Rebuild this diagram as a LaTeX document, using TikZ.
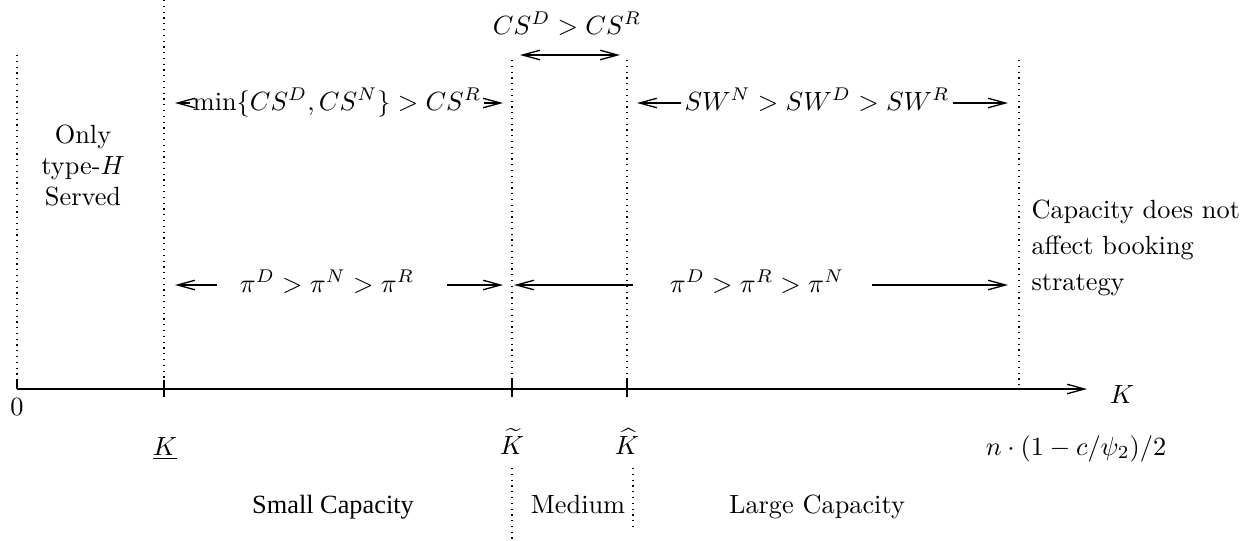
\documentclass[tikz,border=0pt]{standalone}
\usepackage{fontspec}
\newfontfamily\tnr{Liberation Serif}
\usetikzlibrary{arrows.meta}
\tikzset{
  dotl/.style={line width=0.45pt, dash pattern=on 0.45pt off 1.75pt},
  axisline/.style={line width=0.5pt},
  arr/.style={line width=0.5pt, -{Straight Barb[length=6.6pt,width=3.6pt]}},
  darr/.style={line width=0.5pt, {Straight Barb[length=6.6pt,width=3.6pt]}-{Straight Barb[length=6.6pt,width=3.6pt]}},
  lbl/.style={anchor=base, inner sep=0pt},
  lblw/.style={anchor=base west, inner sep=0pt},
}
\begin{document}
\begin{tikzpicture}[x=0.38pt,y=-0.38pt]
\useasboundingbox (0,0) rectangle (1258,540);
% axis
\coordinate (o) at (17,389);
\coordinate (axend) at (1087,389);
\draw[arr] (o) -- (axend);
% ticks
\draw[axisline] (164,380) -- (164,397);
\draw[axisline] (512,380) -- (512,397);
\draw[axisline] (627,380) -- (627,397);
\draw[axisline] (17,380) -- (17,389);
% dotted verticals
\draw[dotl] (17,55) -- (17,380);
\draw[dotl] (164,0) -- (164,380);
\draw[dotl] (512,60) -- (512,380);
\draw[dotl] (627,60) -- (627,380);
\draw[dotl] (1019,60) -- (1019,389);
\draw[dotl] (512,468) -- (512,540);
\draw[dotl] (633,468) -- (633,528);
% axis labels
\node[lbl] (zero) at (17,415) {$0$};
\node[lbl] (Kax) at (1122,403) {$K$};
\node[lbl] (Klow) at (165,455) {$\underline{K}$};
\node[lbl] (Ktil) at (512,454) {$\widetilde{K}$};
\node[lbl] (Khat) at (627,454) {$\widehat{K}$};
\node[lbl] (Kmax) at (1076,455) {$n\cdot(1-c/\psi_2)/2$};
% region labels
\node[lbl, font=\tnr\fontsize{10}{12}\selectfont] (small) at (333,513) {Small Capacity};
\node[lbl] (medium) at (578,513) {Medium};
\node[lbl] (large) at (817,513) {Large Capacity};
% left text
\node[lbl] (only1) at (83,143) {Only};
\node[lbl] (only2) at (83,174) {type-$H$};
\node[lbl] (only3) at (83,205) {Served};
% right text
\node[lblw] (cap1) at (1031,218) {Capacity does not};
\node[lblw] (cap2) at (1031,254) {affect booking};
\node[lblw] (cap3) at (1031,290) {strategy};
% CS^D > CS^R
\node[lbl] (csdr) at (567,34) {$CS^D > CS^R$};
\coordinate (csL) at (520,55);
\coordinate (csR) at (620,55);
\draw[darr] (csL) -- (csR);
% min row
\node[lbl, inner xsep=1pt] (minT) at (337,110) {$\min\{CS^D,CS^N\} > CS^R$};
\coordinate (minL) at (175,103);
\coordinate (minR) at (503,103);
\draw[arr] (minT.west |- minL) -- (minL);
\draw[arr] (minT.east |- minR) -- (minR);
% SW row
\node[lbl, inner xsep=1pt] (swT) at (817,110) {$SW^N > SW^D > SW^R$};
\coordinate (swL) at (637,103);
\coordinate (swR) at (1008,103);
\draw[arr] (swT.west |- swL) -- (swL);
\draw[arr] (swT.east |- swR) -- (swR);
% pi rows
\node[lbl] (pi1) at (327,292) {$\pi^D > \pi^N > \pi^R$};
\coordinate (p1a) at (217,285);
\coordinate (p1b) at (175,285);
\coordinate (p1c) at (447,285);
\coordinate (p1d) at (503,285);
\draw[arr] (p1a) -- (p1b);
\draw[arr] (p1c) -- (p1d);
\node[lbl] (pi2) at (757,292) {$\pi^D > \pi^R > \pi^N$};
\coordinate (p2a) at (633,285);
\coordinate (p2b) at (514,285);
\coordinate (p2c) at (872,285);
\coordinate (p2d) at (1008,285);
\draw[arr] (p2a) -- (p2b);
\draw[arr] (p2c) -- (p2d);
\end{tikzpicture}
\end{document}
